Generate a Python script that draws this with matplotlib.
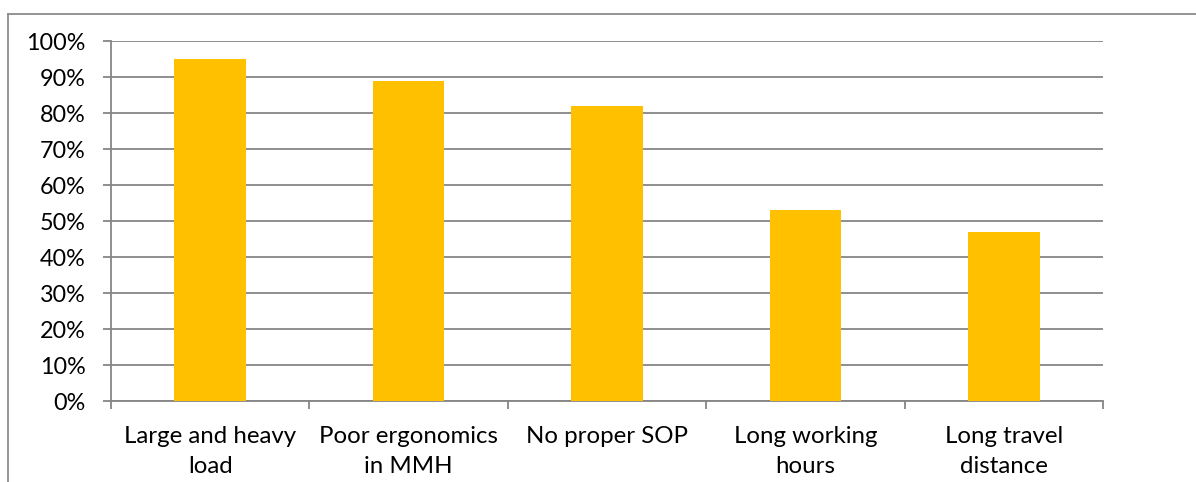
import numpy as np
import matplotlib.pyplot as plt
from matplotlib.lines import Line2D

categories = ['Large and heavy\nload', 'Poor ergonomics\nin MMH', 'No proper SOP',
              'Long working\nhours', 'Long travel\ndistance']
values = [95, 89, 82, 53, 47]
yticks = [0, 10, 20, 30, 40, 50, 60, 70, 80, 90, 100]

plt.rcParams['font.family'] = ['Lato', 'DejaVu Sans']
grid_color = '#868686'

fig = plt.figure(figsize=(11.96, 4.82), dpi=100)
W, H = 1196, 482
ax = fig.add_axes([111 / W, 1 - 401 / H, (1103 - 111) / W, (401 - 41) / H])

x = np.arange(len(categories))
ax.bar(x, values, width=0.36, color='#FFC000', zorder=3)

ax.set_xlim(-0.5, len(categories) - 0.5)
ax.set_ylim(0, 100)
ax.set_yticks(yticks)
ax.set_yticklabels([f'{v}%' for v in yticks], fontsize=16.8, color='black')
ax.yaxis.grid(True, color=grid_color, linewidth=1.3, zorder=0)

# category labels placed between boundary ticks
ax.set_xticks(np.arange(-0.5, len(categories)))
ax.set_xticklabels([])
ax.set_xticks(x, minor=True)
ax.set_xticklabels(categories, minor=True, fontsize=17.3, linespacing=1.55, color='black')
ax.tick_params(axis='x', which='minor', length=0, pad=18)
ax.tick_params(axis='x', which='major', length=6, color=grid_color, width=1.3)
ax.tick_params(axis='y', length=6, color=grid_color, width=1.3, pad=12)

for side in ['top', 'right']:
    ax.spines[side].set_visible(False)
for side in ['left', 'bottom']:
    ax.spines[side].set_color(grid_color)
    ax.spines[side].set_linewidth(1.3)

# outer chart frame (only top and left edges visible)
fig.add_artist(Line2D([8 / W, 1], [1 - 14 / H, 1 - 14 / H], color='#8c8c8c', linewidth=1.3))
fig.add_artist(Line2D([8 / W, 8 / W], [0, 1 - 14 / H], color='#8c8c8c', linewidth=1.3))

fig.savefig('out.png', dpi=100)
